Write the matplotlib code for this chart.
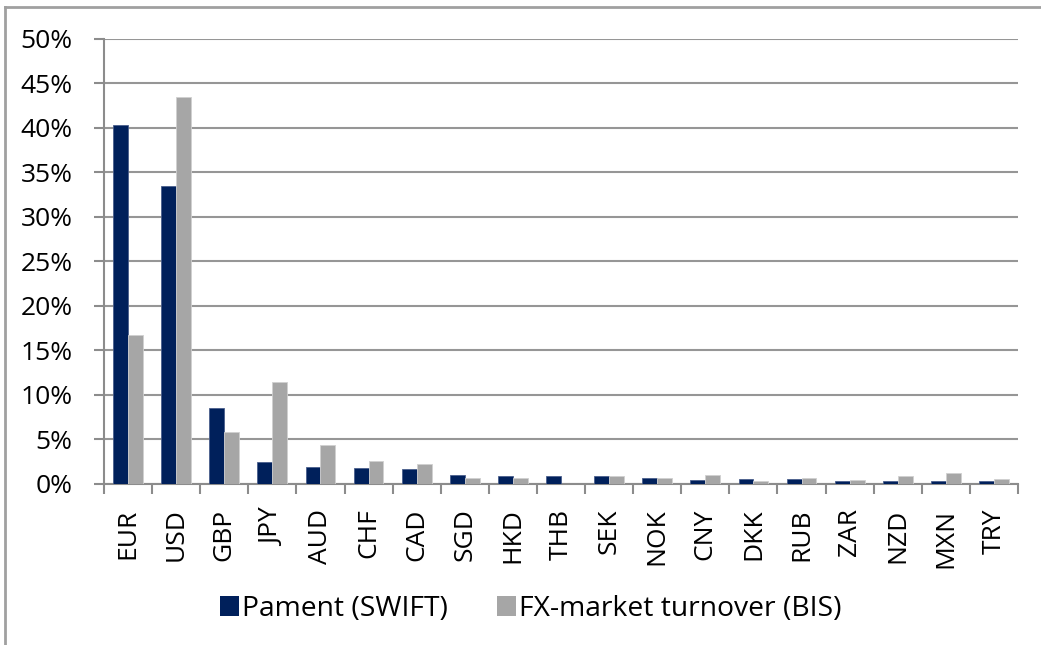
import matplotlib
matplotlib.use('Agg')
import matplotlib.pyplot as plt
import numpy as np
from matplotlib.lines import Line2D
from matplotlib.patches import Patch

currencies = ['EUR', 'USD', 'GBP', 'JPY', 'AUD', 'CHF', 'CAD', 'SGD', 'HKD', 'THB',
              'SEK', 'NOK', 'CNY', 'DKK', 'RUB', 'ZAR', 'NZD', 'MXN', 'TRY']
swift = [40.3, 33.5, 8.5, 2.4, 1.8, 1.7, 1.6, 1.0, 0.8, 0.8,
         0.8, 0.6, 0.4, 0.45, 0.45, 0.3, 0.3, 0.3, 0.3]
bis = [16.7, 43.5, 5.8, 11.4, 4.3, 2.5, 2.2, 0.6, 0.6, 0.0,
       0.8, 0.6, 0.9, 0.25, 0.6, 0.4, 0.8, 1.2, 0.45]
yticks = [0, 5, 10, 15, 20, 25, 30, 35, 40, 45, 50]
series_names = ['Pament (SWIFT)', 'FX-market turnover (BIS)']

plt.rcParams['font.family'] = ['Open Sans', 'DejaVu Sans']

W, H = 1041, 645
fig = plt.figure(figsize=(W / 100, H / 100), dpi=100)
ax = fig.add_axes([104 / W, 1 - 483.5 / H, (1018 - 104) / W, (483.5 - 39) / H])

blue = '#00205B'
grey = '#A6A6A6'
axis_col = '#8C8C8C'

n = len(currencies)
x = np.arange(n)
bw = 0.31
ax.bar(x - bw / 2, swift, bw, color=blue, edgecolor='#4A5E8C', linewidth=0.6, zorder=3)
ax.bar(x + bw / 2, bis, bw, color=grey, edgecolor='#D0D0D0', linewidth=0.6, zorder=3)

ax.set_xlim(-0.5, n - 0.5)
ax.set_ylim(0, 50)
ax.set_yticks(yticks)
ax.set_yticklabels([f'{v}%' for v in yticks], fontsize=19)
ax.yaxis.grid(True, color='#969696', linewidth=1.5)
ax.set_axisbelow(True)

for s in ['top', 'right']:
    ax.spines[s].set_visible(False)
for s in ['left', 'bottom']:
    ax.spines[s].set_color(axis_col)
    ax.spines[s].set_linewidth(1.5)

ax.set_xticks(x)
ax.set_xticklabels(currencies, rotation=90, fontsize=19)
ax.tick_params(axis='x', which='major', length=0, pad=18)
ax.set_xticks(np.arange(-0.5, n, 1.0), minor=True)
ax.tick_params(axis='x', which='minor', length=7.2, width=1.5, color=axis_col)
ax.tick_params(axis='y', length=7.2, width=1.5, color=axis_col, pad=15.5)

# outer chart frame (top and left visible)
fig.add_artist(Line2D([5 / W, 5 / W], [0, 1 - 6.5 / H], transform=fig.transFigure,
                      color='#A0A0A0', lw=2))
fig.add_artist(Line2D([5 / W, 1], [1 - 6.5 / H, 1 - 6.5 / H], transform=fig.transFigure,
                      color='#A0A0A0', lw=2))

handles = [Patch(facecolor=blue, edgecolor='none'), Patch(facecolor=grey, edgecolor='none')]
fig.legend(handles, series_names, loc='center', bbox_to_anchor=(531 / W, 1 - 609 / H),
           ncol=2, frameon=False, handlelength=0.65, handleheight=0.68,
           handletextpad=0.12, columnspacing=1.75, borderpad=0,
           prop={'family': ['Liberation Sans Narrow', 'Open Sans'], 'size': 20.3})

fig.savefig('out.png', dpi=100)
